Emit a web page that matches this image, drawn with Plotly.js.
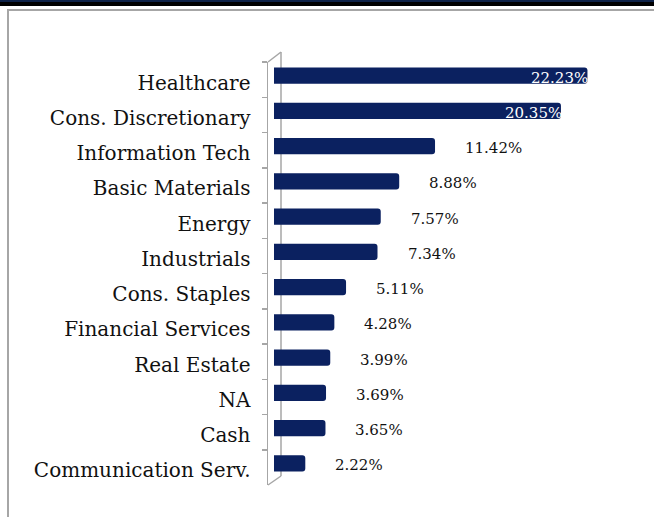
<!DOCTYPE html>
<html>
<head>
<meta charset="utf-8">
<script src="https://cdn.plot.ly/plotly-3.0.1.min.js"></script>
<style>
  html, body { margin: 0; padding: 0; background: #ffffff; }
  #wrap { position: relative; width: 654px; height: 517px; overflow: hidden; background: #fff; }
  #band { position: absolute; left: 0; top: 0; width: 654px; height: 6px; background: #000; border-top: 2px solid #0d2147; box-sizing: border-box; }
  #frame { position: absolute; left: 7px; top: 9px; width: 700px; height: 600px; border-left: 2px solid #a6a6a6; border-top: 2px solid #a6a6a6; box-sizing: border-box; }
  #chart { position: absolute; left: 0; top: 0; width: 654px; height: 517px; }
</style>
</head>
<body>
<div id="wrap">
  <div id="band"></div>
  <div id="frame"></div>
  <div id="chart"></div>
</div>
<script>
// ---- data ----
var sectors = [
  "Healthcare", "Cons. Discretionary", "Information Tech", "Basic Materials",
  "Energy", "Industrials", "Cons. Staples", "Financial Services",
  "Real Estate", "NA", "Cash", "Communication Serv."
];
var weights = [22.23, 20.35, 11.42, 8.88, 7.57, 7.34, 5.11, 4.28, 3.99, 3.69, 3.65, 2.22];
var weightLabels = ["22.23%", "20.35%", "11.42%", "8.88%", "7.57%", "7.34%", "5.11%", "4.28%", "3.99%", "3.69%", "3.65%", "2.22%"];

// ---- layout geometry ----
var W = 654, H = 517;
var M = { l: 268, r: 10, t: 50, b: 32 };
var pw = W - M.l - M.r, ph = H - M.t - M.b;
function px2x(px) { return (px - M.l) / pw; }
function px2y(py) { return (H - M.b - py) / ph; }
var catRange = [sectors.length - 0.5, -0.5];

var navy = "#0b2160";
var wallGray = "#a6a6a6";
var serif = "DejaVu Serif, Liberation Serif, serif";

var bars = {
  type: "bar",
  orientation: "h",
  x: weights,
  y: sectors,
  yaxis: "y2",
  marker: { color: navy, cornerradius: 3, line: { width: 0 } },
  width: 0.46,
  hoverinfo: "skip",
  showlegend: false
};

// invisible trace to carry category ticks on the front axis
var labelsTrace = {
  type: "scatter",
  mode: "markers",
  x: weights.map(function () { return 0; }),
  y: sectors,
  marker: { opacity: 0 },
  hoverinfo: "skip",
  showlegend: false
};

var annotations = weights.map(function (v, i) {
  var inside = v > 15;
  return {
    xref: "x", yref: "y2",
    x: v, y: sectors[i],
    text: weightLabels[i],
    showarrow: false,
    xanchor: inside ? "right" : "left",
    xshift: inside ? 3 : 28,
    yshift: -2,
    font: { family: serif, size: 15, color: inside ? "#ffffff" : "#111111" }
  };
});

var lineStyle = { color: wallGray, width: 1.5 };
var shapes = [
  { type: "line", layer: "below", xref: "paper", yref: "paper", x0: px2x(281), x1: px2x(281), y0: px2y(52), y1: px2y(476), line: lineStyle },
  { type: "line", layer: "below", xref: "paper", yref: "paper", x0: px2x(268), x1: px2x(281), y0: px2y(62), y1: px2y(52), line: lineStyle },
  { type: "line", layer: "below", xref: "paper", yref: "paper", x0: px2x(268), x1: px2x(281), y0: px2y(485), y1: px2y(476), line: lineStyle }
];

var layout = {
  width: W, height: H,
  margin: M,
  paper_bgcolor: "rgba(0,0,0,0)",
  plot_bgcolor: "rgba(0,0,0,0)",
  showlegend: false,
  xaxis: {
    range: [-0.4255, 26.24],
    showgrid: false, zeroline: false, showline: false,
    showticklabels: false, ticks: "", fixedrange: true
  },
  yaxis: {
    type: "category",
    categoryarray: sectors,
    categoryorder: "array",
    range: catRange,
    autorange: false,
    domain: [0, px2y(62)],
    showgrid: false, zeroline: false,
    showline: true, linecolor: wallGray, linewidth: 1.5,
    ticks: "outside", tickson: "boundaries", ticklen: 5, tickcolor: wallGray, tickwidth: 1.5,
    ticklabelstandoff: 12,
    ticklabelshift: -3,
    tickfont: { family: serif, size: 20, color: "#111111" },
    anchor: "x"
  },
  yaxis2: {
    type: "category",
    categoryarray: sectors,
    categoryorder: "array",
    range: catRange,
    autorange: false,
    domain: [px2y(481), px2y(58)],
    showgrid: false, zeroline: false, showline: false,
    showticklabels: false, ticks: "",
    anchor: "x"
  },
  annotations: annotations,
  shapes: shapes
};

Plotly.newPlot("chart", [labelsTrace, bars], layout, { displayModeBar: false, staticPlot: true });
</script>
</body>
</html>
